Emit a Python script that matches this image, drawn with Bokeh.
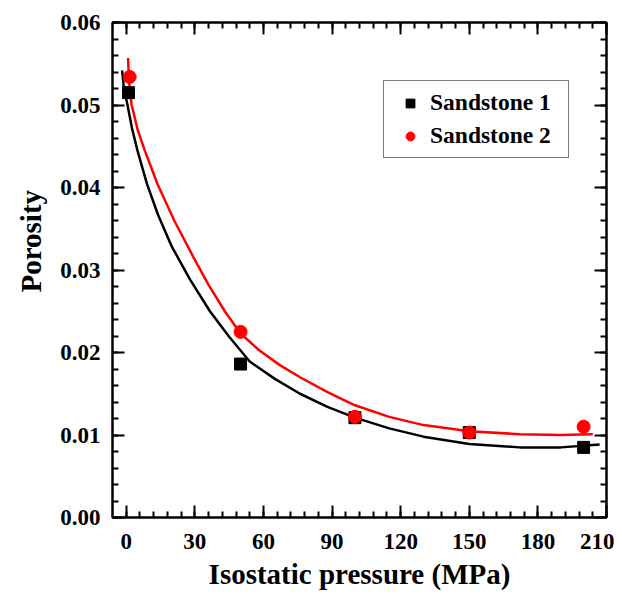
from bokeh.plotting import figure
from bokeh.models import (LinearAxis, Range1d, FixedTicker, Legend, LegendItem,
                          NumeralTickFormatter, CustomLabelingPolicy, Title)
from bokeh.embed import file_html
from bokeh.resources import INLINE

# Measured data
s1_x = [1, 50, 100, 150, 200]
s1_y = [0.0515, 0.0186, 0.0121, 0.0103, 0.0085]
s2_x = [1.5, 50, 100, 150, 200]
s2_y = [0.0534, 0.0225, 0.0122, 0.0103, 0.0110]

# Fit curves
fit1_x = [-1.8, -1.0, 0.5, 2.5, 4.9, 9.1, 13.9, 20, 28, 36.6, 45, 54, 65, 76, 88, 100, 115, 130, 150, 172, 190, 207]
fit1_y = [0.0542, 0.0520, 0.0501, 0.0472, 0.0445, 0.0404, 0.0367, 0.0328, 0.0288, 0.0250, 0.0219, 0.0189,
          0.0168, 0.0150, 0.0134, 0.0121, 0.0108, 0.0098, 0.0089, 0.0085, 0.0085, 0.00885]
fit2_x = [0.8, 1.2, 2.3, 5, 8.1, 13.7, 21, 29.3, 36, 43.1, 50, 58, 67, 76, 88, 100, 115, 130, 150, 172, 190, 204]
fit2_y = [0.0557, 0.0530, 0.0501, 0.0470, 0.0445, 0.0404, 0.0360, 0.0316, 0.0282, 0.0250, 0.0223, 0.0203,
          0.0185, 0.0170, 0.0152, 0.0136, 0.0122, 0.0112, 0.01045, 0.0101, 0.0100, 0.0101]

x_ticks = [0, 30, 60, 90, 120, 150, 180, 210]
y_ticks = [0.00, 0.01, 0.02, 0.03, 0.04, 0.05, 0.06]
x_minor = [v for v in range(0, 211, 6)]
y_minor = [i * 0.002 for i in range(0, 31)]

FONT = "Liberation Serif"

p = figure(width=614, height=592, output_backend="svg", toolbar_location=None,
           x_range=Range1d(-6, 210), y_range=Range1d(0, 0.06),
           min_border_left=112, min_border_right=8, min_border_top=22, min_border_bottom=75)
p.grid.visible = False
p.outline_line_color = "black"
p.outline_line_width = 2
p.background_fill_color = "white"
p.border_fill_color = "white"

hide_labels = CustomLabelingPolicy(code="""
try {
  const o = indices.clone();
  for (const i of Array.from(indices.ones())) o.unset(i);
  return o;
} catch (e) {
  return indices;
}
""")


def style_axis(ax, ticks, minor, show_labels):
    ax.ticker = FixedTicker(ticks=ticks, minor_ticks=minor)
    ax.axis_line_width = 2
    ax.axis_line_color = "black"
    ax.major_tick_line_width = 2
    ax.minor_tick_line_width = 2
    ax.major_tick_in = 12
    ax.major_tick_out = 0
    ax.minor_tick_in = 6
    ax.minor_tick_out = 0
    if show_labels:
        ax.major_label_text_font = FONT
        ax.major_label_text_font_style = "bold"
        ax.major_label_text_font_size = "23px"
        ax.major_label_text_color = "black"
        ax.axis_label_text_font = FONT
        ax.axis_label_text_font_style = "bold"
        ax.axis_label_text_font_size = "29px"
        ax.axis_label_text_color = "black"
    else:
        ax.major_label_policy = hide_labels
        ax.major_label_text_font_size = "0px"
        ax.major_label_standoff = 0
        ax.axis_label = None


xa = p.xaxis[0]
ya = p.yaxis[0]
style_axis(xa, x_ticks, x_minor, True)
style_axis(ya, y_ticks, y_minor, True)
xa.axis_label = "Isostatic pressure (MPa)"
xa.major_label_standoff = 16
ya.major_label_standoff = 12
xa.axis_label_standoff = 6
ya.formatter = NumeralTickFormatter(format="0.00")

top = LinearAxis()
right = LinearAxis()
style_axis(top, x_ticks, x_minor, False)
style_axis(right, y_ticks, y_minor, False)
p.add_layout(top, "above")
p.add_layout(right, "right")

ytitle = Title(text="Porosity", align="left", offset=225, standoff=21,
               text_font=FONT, text_font_style="bold", text_font_size="29px",
               text_color="black")
p.add_layout(ytitle, "left")

p.line(fit1_x, fit1_y, line_color="black", line_width=2.5)
p.line(fit2_x, fit2_y, line_color="red", line_width=2.5)
r1 = p.scatter(s1_x, s1_y, marker="square", size=12, fill_color="black", line_color="black")
r2 = p.scatter(s2_x, s2_y, marker="circle", size=13, fill_color="red", line_color="red")

legend = Legend(items=[LegendItem(label="Sandstone 1", renderers=[r1]),
                       LegendItem(label="Sandstone 2", renderers=[r2])],
                location=(271, 359))
legend.label_text_font = FONT
legend.label_text_font_style = "bold"
legend.label_text_font_size = "23.5px"
legend.label_text_color = "black"
legend.border_line_color = "black"
legend.border_line_width = 1.5
legend.padding = 8
legend.spacing = 6
legend.glyph_width = 36
legend.glyph_height = 22
legend.label_height = 22
legend.label_width = 130
legend.label_standoff = 2
legend.margin = 0
legend.background_fill_alpha = 1
p.add_layout(legend, "center")

open("out.html", "w").write(file_html(p, INLINE))
